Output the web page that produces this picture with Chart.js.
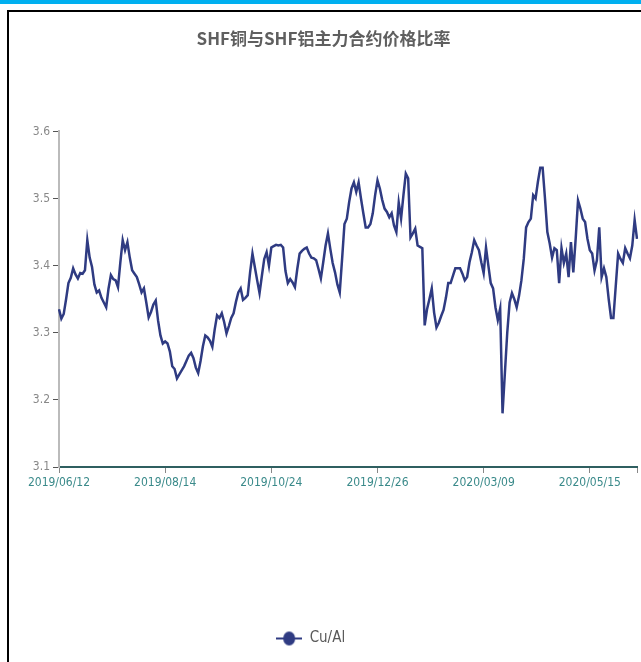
<!DOCTYPE html>
<html>
<head>
<meta charset="utf-8">
<script src="https://cdn.jsdelivr.net/npm/chart.js@4"></script>
<style>
html,body{margin:0;padding:0;background:#fff;overflow:hidden;}
#topbar{position:absolute;left:0;top:0;width:641px;height:4px;background:#00b0f0;}
#frame{position:absolute;left:7px;top:10px;width:700px;height:700px;border:2px solid #000;}
#c{position:absolute;left:0;top:0;}
</style>
</head>
<body>
<div id="topbar"></div>
<div id="frame"></div>
<canvas id="c" width="641" height="662"></canvas>
<script>
	var chartTitle = 'SHF铜与SHF铝主力合约价格比率';
	var seriesName = 'Cu/Al';
	var lineColor = '#2f3b82';

	// Cu/Al ratio, one value per trading day from 2019/06/12
	var ratio = [
		3.335, 3.321, 3.328, 3.350, 3.374, 3.382, 3.396, 3.387, 3.381, 3.389,
		3.388, 3.393, 3.438, 3.412, 3.398, 3.372, 3.360, 3.363, 3.352, 3.345,
		3.338, 3.366, 3.386, 3.380, 3.378, 3.368, 3.405, 3.438, 3.423, 3.435,
		3.412, 3.393, 3.388, 3.383, 3.372, 3.360, 3.366, 3.345, 3.323, 3.331,
		3.342, 3.348, 3.318, 3.296, 3.284, 3.287, 3.284, 3.272, 3.250, 3.246,
		3.232, 3.238, 3.244, 3.250, 3.258, 3.266, 3.270, 3.262, 3.248, 3.240,
		3.258, 3.280, 3.296, 3.293, 3.288, 3.279, 3.305, 3.326, 3.322, 3.329,
		3.316, 3.299, 3.310, 3.322, 3.329, 3.346, 3.360, 3.366, 3.349, 3.352,
		3.356, 3.390, 3.418, 3.398, 3.378, 3.359, 3.385, 3.410, 3.420, 3.400,
		3.427, 3.429, 3.431, 3.430, 3.431, 3.427, 3.392, 3.374, 3.380, 3.375,
		3.368, 3.395, 3.418, 3.422, 3.425, 3.427, 3.418, 3.412, 3.411, 3.408,
		3.395, 3.381, 3.405, 3.430, 3.448, 3.425, 3.404, 3.390, 3.372, 3.360,
		3.410, 3.462, 3.470, 3.495, 3.515, 3.524, 3.510, 3.524, 3.500, 3.478,
		3.457, 3.457, 3.462, 3.478, 3.505, 3.527, 3.515, 3.498, 3.485, 3.480,
		3.472, 3.478, 3.460, 3.450, 3.494, 3.470, 3.505, 3.537, 3.530, 3.442,
		3.448, 3.455, 3.430, 3.428, 3.426, 3.311, 3.335, 3.350, 3.366, 3.330,
		3.308, 3.315, 3.325, 3.334, 3.352, 3.374, 3.374, 3.385, 3.396, 3.396,
		3.396, 3.388, 3.378, 3.383, 3.405, 3.420, 3.438, 3.430, 3.423, 3.405,
		3.389, 3.427, 3.400, 3.374, 3.366, 3.338, 3.319, 3.336, 3.180, 3.240,
		3.300, 3.345, 3.359, 3.350, 3.338, 3.355, 3.378, 3.410, 3.457, 3.465,
		3.470, 3.505, 3.500, 3.525, 3.546, 3.546, 3.500, 3.450, 3.433, 3.412,
		3.426, 3.423, 3.374, 3.426, 3.404, 3.418, 3.383, 3.435, 3.390, 3.440,
		3.497, 3.485, 3.470, 3.465, 3.440, 3.423, 3.418, 3.393, 3.408, 3.457,
		3.383, 3.396, 3.383, 3.350, 3.322, 3.322, 3.370, 3.418, 3.410, 3.404,
		3.426, 3.418, 3.411, 3.430, 3.468, 3.440
	];

	// exchange holidays falling on weekdays in the period
	var holidays = ['2019/09/13', '2019/10/01', '2019/10/02', '2019/10/03', '2019/10/04', '2019/10/07',
		'2020/01/01', '2020/01/24', '2020/01/27', '2020/01/28', '2020/01/29', '2020/01/30', '2020/01/31',
		'2020/04/06', '2020/05/01', '2020/05/04', '2020/05/05'];
	var labelStep = 45;

	function fmtDate(d)
	{
		var m = d.getMonth() + 1, day = d.getDate();
		return d.getFullYear() + '/' + (m < 10 ? '0' : '') + m + '/' + (day < 10 ? '0' : '') + day;
	}

	var dates = [];
	var cur = new Date(2019, 5, 12);
	while (dates.length < ratio.length) {
		var s = fmtDate(cur);
		if (cur.getDay() !== 0 && cur.getDay() !== 6 && holidays.indexOf(s) < 0) { dates.push(s); }
		cur.setDate(cur.getDate() + 1);
	}

	// legend marker: short line with a dot in the middle
	var marker = document.createElement('canvas');
	marker.width = 26; marker.height = 16;
	var g = marker.getContext('2d');
	g.strokeStyle = lineColor; g.lineWidth = 2;
	g.beginPath(); g.moveTo(0, 8); g.lineTo(26, 8); g.stroke();
	g.fillStyle = lineColor;
	g.beginPath(); g.ellipse(13, 8, 6, 7, 0, 0, Math.PI * 2); g.fill();

	var narrow = "'DejaVu Sans Condensed', 'Liberation Sans Narrow', sans-serif";

	new Chart(document.getElementById('c').getContext('2d'), {
		type: 'line',
		data: {
			labels: dates,
			datasets: [{
				label: seriesName,
				data: ratio,
				borderColor: lineColor,
				backgroundColor: lineColor,
				borderWidth: 2.5,
				pointRadius: 0,
				tension: 0
			}]
		},
		options: {
			responsive: false,
			animation: false,
			devicePixelRatio: 1,
			layout: { padding: { top: 28, left: 10, right: 4, bottom: 6 } },
			plugins: {
				title: {
					display: true,
					text: chartTitle,
					color: '#5f5f5f',
					font: { family: "'Noto Sans CJK SC', sans-serif", size: 17, weight: 'bold' },
					padding: { top: 0, bottom: 83 }
				},
				legend: {
					position: 'bottom',
					labels: {
						usePointStyle: true,
						pointStyle: marker,
						pointStyleWidth: 26,
						color: '#595959',
						font: { family: narrow, size: 15 },
						padding: 10,
						// pad the text on the right so the item sits a bit left of centre
						generateLabels: function (chart) {
							var items = Chart.defaults.plugins.legend.labels.generateLabels(chart);
							items.forEach(function (it) { it.text = it.text + '\u00a0\u00a0\u00a0\u00a0\u00a0\u00a0'; });
							return items;
						}
					}
				},
				tooltip: { enabled: false }
			},
			scales: {
				x: {
					type: 'category',
					offset: false,
					afterBuildTicks: function (sc) {
						sc.ticks = sc.ticks.filter(function (t) { return t.value % labelStep === 0 || t.value === dates.length - 1; });
					},
					afterFit: function (sc) { sc.height = 154; },
					ticks: {
						autoSkip: false,
						maxRotation: 0,
						color: '#3a8a8a',
						font: { family: narrow, size: 12 },
						callback: function (v) { return v % labelStep === 0 ? this.getLabelForValue(v) : ''; }
					},
					grid: { drawOnChartArea: false, tickLength: 6, color: '#888' },
					border: { color: '#2f5f60', width: 2 }
				},
				y: {
					min: 3.1,
					max: 3.6,
					afterFit: function (sc) { sc.width = 49; },
					ticks: {
						stepSize: 0.1,
						color: '#888',
						padding: 3,
						font: { family: narrow, size: 12 },
						callback: function (v) { return v.toFixed(1); }
					},
					grid: { drawOnChartArea: false, tickLength: 6, color: '#555' },
					border: { color: '#bbb', width: 2 }
				}
			}
		}
	});
</script>
</body>
</html>
